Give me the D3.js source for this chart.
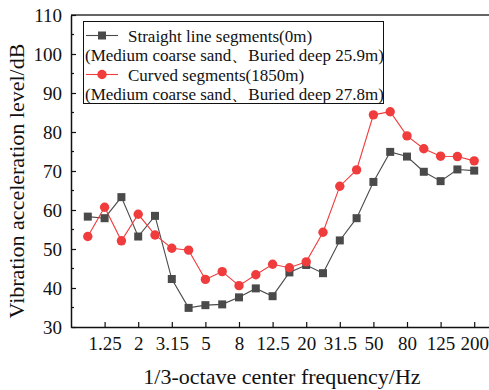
<!DOCTYPE html>
<html>
<head>
<meta charset="utf-8">
<script src="https://cdn.jsdelivr.net/npm/d3@7"></script>
</head>
<body style="margin:0">
<svg id="chart" width="489" height="390" style="display:block;font-family:'Liberation Serif'" font-family="Liberation Serif"></svg>
<script>
const categories = ["1","1.25","1.6","2","2.5","3.15","4","5","6.3","8","10","12.5","16","20","25","31.5","40","50","63","80","100","125","160","200"];
const tickLabels = ["1.25","2","3.15","5","8","12.5","20","31.5","50","80","125","200"];
const straight = [58.3,57.9,63.3,53.2,58.5,42.3,34.9,35.6,35.8,37.6,39.9,37.9,44.0,45.9,43.8,52.2,57.9,67.2,74.9,73.7,69.8,67.4,70.4,70.1];
const curved = [53.2,60.7,52.1,58.9,53.6,50.2,49.7,42.2,44.2,40.6,43.4,46.1,45.2,46.7,54.3,66.1,70.3,84.4,85.2,79.0,75.7,73.8,73.7,72.6];
const yTicks = [30,40,50,60,70,80,90,100,110];
const seriesNames = ["Straight line segments(0m)","Curved segments(1850m)"];
const seriesNotes = ["(Medium coarse sand\u3001Buried deep 25.9m)","(Medium coarse sand\u3001Buried deep 27.8m)"];

const FONT = "Liberation Serif";
const svg = d3.select("#chart");
const L = 71, R = 491, T = 15, B = 327;
const x = d3.scalePoint().domain(categories).range([L, R]).padding(1);
const y = d3.scaleLinear().domain([30,110]).range([B, T]);

const gray = "#4a4a4a", red = "#f03c3c";

function txt(sel){ return sel.style("font-family", FONT).attr("fill","#111"); }

// frame (top / right)
svg.append("path").attr("d", `M${L},${T}H${R}V${B}`).attr("fill","none").attr("stroke","#333").attr("stroke-width",1.3);

// y axis
const yAxis = svg.append("g").attr("transform",`translate(${L},0)`)
  .call(d3.axisLeft(y).tickValues(yTicks).tickSizeInner(-5).tickSizeOuter(0).tickPadding(9));
yAxis.attr("font-family",FONT).attr("font-size",19);
yAxis.select(".domain").attr("stroke","#111").attr("stroke-width",1.5);
yAxis.selectAll(".tick line").attr("stroke","#111").attr("stroke-width",1.2);
txt(yAxis.selectAll("text").attr("font-size",19));
// minor y ticks
svg.append("g").selectAll("line").data(d3.range(35,110,10)).join("line")
  .attr("x1",L).attr("x2",L+3).attr("y1",d=>y(d)).attr("y2",d=>y(d)).attr("stroke","#111").attr("stroke-width",1.2);

// x axis
const xAxis = svg.append("g").attr("transform",`translate(0,${B})`)
  .call(d3.axisBottom(x).tickValues(tickLabels).tickSizeInner(-5).tickSizeOuter(0).tickPadding(10));
xAxis.attr("font-family",FONT).attr("font-size",19);
xAxis.select(".domain").attr("stroke","#111").attr("stroke-width",1.5);
xAxis.selectAll(".tick line").attr("stroke","#111").attr("stroke-width",1.2);
txt(xAxis.selectAll("text").attr("font-size",19));

// axis titles
txt(svg.append("text").attr("x",(142+422)/2).attr("y",384).attr("text-anchor","middle").attr("font-size",22))
  .text("1/3-octave center frequency/Hz");
txt(svg.append("text").attr("transform","translate(24,181) rotate(-90)").attr("text-anchor","middle").attr("font-size",22))
  .text("Vibration acceleration level/dB");

// series
const line = d3.line().x((d,i)=>x(categories[i])).y(d=>y(d));
svg.append("path").datum(straight).attr("d",line).attr("fill","none").attr("stroke",gray).attr("stroke-width",1.1);
svg.append("path").datum(curved).attr("d",line).attr("fill","none").attr("stroke",red).attr("stroke-width",1.1);
svg.append("g").selectAll("rect").data(straight).join("rect")
  .attr("x",(d,i)=>x(categories[i])-4).attr("y",d=>y(d)-4).attr("width",8).attr("height",8).attr("fill",gray);
svg.append("g").selectAll("circle").data(curved).join("circle")
  .attr("cx",(d,i)=>x(categories[i])).attr("cy",d=>y(d)).attr("r",4.7).attr("fill",red);

// legend
const lg = svg.append("g");
lg.append("rect").attr("x",83.5).attr("y",21.5).attr("width",300).attr("height",82).attr("fill","#fff").attr("stroke","#111").attr("stroke-width",1);
const rows = [{c:gray, shape:"rect", y:35.5},{c:red, shape:"circle", y:74.5}];
rows.forEach((r,i)=>{
  lg.append("line").attr("x1",86).attr("x2",118).attr("y1",r.y).attr("y2",r.y).attr("stroke",r.c).attr("stroke-width",1.1);
  if(r.shape==="rect") lg.append("rect").attr("x",98).attr("y",r.y-4).attr("width",8).attr("height",8).attr("fill",r.c);
  else lg.append("circle").attr("cx",102).attr("cy",r.y).attr("r",4.7).attr("fill",r.c);
  txt(lg.append("text").attr("x",128).attr("y",r.y+6).attr("font-size",17)).text(seriesNames[i]);
  txt(lg.append("text").attr("x",85).attr("y",r.y+25).attr("font-size",17)).text(seriesNotes[i]);
});
</script>
</body>
</html>
